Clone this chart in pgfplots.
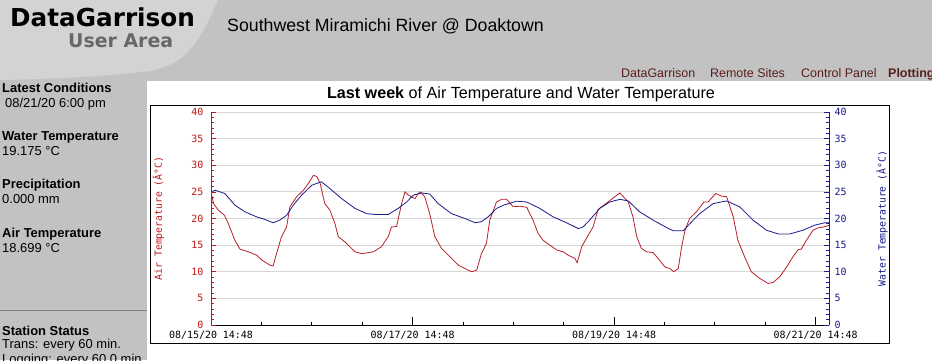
\documentclass[border=0pt]{standalone}
\usepackage{pgfplots}
\pgfplotsset{compat=1.18}
\usepackage{fontspec}
\setmainfont{Liberation Sans}
\newfontfamily\dejavu{DejaVu Sans}
\newfontfamily\mono{DejaVu Sans Mono}
\definecolor{pagegray}{HTML}{C2C2C2}
\definecolor{lightg}{HTML}{D3D3D3}
\definecolor{axred}{HTML}{C01818}
\definecolor{airred}{HTML}{B8202A}
\definecolor{navy}{HTML}{1A1A8C}
\definecolor{navlink}{HTML}{5A1E1E}
\definecolor{gridg}{HTML}{D6D6D6}
\definecolor{usergray}{HTML}{686868}
\begin{document}
\begin{tikzpicture}[x=1bp,y=1bp]
\path[use as bounding box] (0,0) rectangle (932,360);
\fill[pagegray] (0,0) rectangle (932,360);
\fill[lightg] (0,360) -- (218,360) .. controls (200,320) and (188,296) .. (150,289) .. controls (100,283) and (50,281) .. (0,280) -- cycle;
\fill[white] (147,0) rectangle (932,279);
\draw[black, line width=1bp] (150,17) rectangle (889,255);
% header
\node[anchor=base west, inner sep=0pt, font=\dejavu\bfseries\fontsize{24.8}{29}\selectfont] at (10,334) {DataGarrison};
\node[anchor=base west, inner sep=0pt, text=usergray, font=\dejavu\bfseries\fontsize{19}{22}\selectfont] at (68,313) {User Area};
\node[anchor=base west, inner sep=0pt, font=\fontsize{17.8}{21}\selectfont] at (227,329) {Southwest Miramichi River @ Doaktown};
\node[anchor=base west, inner sep=0pt, text=navlink, font=\fontsize{12.5}{15}\selectfont] at (621,283) {DataGarrison};
\node[anchor=base west, inner sep=0pt, text=navlink, font=\fontsize{12.5}{15}\selectfont] at (710,283) {Remote Sites};
\node[anchor=base west, inner sep=0pt, text=navlink, font=\fontsize{12.5}{15}\selectfont] at (801,283) {Control Panel};
\node[anchor=base west, inner sep=0pt, text=navlink, font=\bfseries\fontsize{12.5}{15}\selectfont] at (888,283) {Plotting};
% sidebar
\node[anchor=base west, inner sep=0pt, font=\bfseries\fontsize{13}{15}\selectfont] at (2,268) {Latest Conditions};
\node[anchor=base west, inner sep=0pt, font=\fontsize{13}{15}\selectfont] at (5,253) {08/21/20 6:00 pm};
\node[anchor=base west, inner sep=0pt, font=\bfseries\fontsize{13}{15}\selectfont] at (2,220) {Water Temperature};
\node[anchor=base west, inner sep=0pt, font=\fontsize{13}{15}\selectfont] at (2,205) {19.175 °C};
\node[anchor=base west, inner sep=0pt, font=\bfseries\fontsize{13}{15}\selectfont] at (2,172) {Precipitation};
\node[anchor=base west, inner sep=0pt, font=\fontsize{13}{15}\selectfont] at (2,157) {0.000 mm};
\node[anchor=base west, inner sep=0pt, font=\bfseries\fontsize{13}{15}\selectfont] at (2,123) {Air Temperature};
\node[anchor=base west, inner sep=0pt, font=\fontsize{13}{15}\selectfont] at (2,108) {18.699 °C};
\draw[gray, line width=0.8bp] (0,50) -- (147,50);
\node[anchor=base west, inner sep=0pt, font=\bfseries\fontsize{13}{15}\selectfont] at (2,25) {Station Status};
\node[anchor=base west, inner sep=0pt, font=\fontsize{13}{15}\selectfont] at (2,12) {Trans: every 60 min.};
\node[anchor=base west, inner sep=0pt, font=\fontsize{13}{15}\selectfont] at (2,-3) {Logging: every 60.0 min.};
% title
\node[anchor=base, inner sep=0pt, font=\fontsize{16.2}{19}\selectfont] at (521,262) {\textbf{Last week} of Air Temperature and Water Temperature};
% axis 1: grid and time axis
\begin{axis}[at={(211bp,35bp)}, anchor=south west, scale only axis,
  width=618bp, height=213bp, xmin=0, xmax=147.2, ymin=0, ymax=40,
  axis x line*=bottom, axis y line*=left, y axis line style={draw=none},
  x axis line style={black, line width=0.8bp},
  ytick={5,10,...,40}, yticklabels={}, ytick style={draw=none},
  ymajorgrids, grid style={gridg, line width=0.8bp},
  xtick={0,48,96,144}, minor xtick={12,24,36,60,72,84,108,120,132},
  xticklabels={08/15/20 14:48,08/17/20 14:48,08/19/20 14:48,08/21/20 14:48},
  tick align=inside, major tick length=8bp, minor tick length=3.5bp,
  xtick style={black, line width=0.8bp},
  xticklabel style={font=\mono\fontsize{10}{12}\selectfont, text=black, yshift=-3bp}]
\end{axis}
% axis 2: air temperature
\begin{axis}[at={(211bp,35bp)}, anchor=south west, scale only axis,
  width=618bp, height=213bp, xmin=0, xmax=147.2, ymin=0, ymax=40,
  /pgf/number format/assume math mode=true,
  axis x line=none, axis y line*=left,
  y axis line style={axred, line width=0.8bp},
  ytick={0,5,...,40}, minor y tick num=4,
  tick align=inside, major tick length=5bp, minor tick length=3bp,
  ytick style={axred, line width=0.7bp},
  yticklabel style={font=\mono\fontsize{10}{11}\selectfont, text=axred, xshift=-4bp},
  ylabel={Air Temperature (Â°C)},
  every axis y label/.style={at={(axis description cs:-0.085,0.5)}, rotate=90, anchor=center, font=\mono\fontsize{9.8}{11}\selectfont, text=axred}]
\addplot[airred, line width=0.8bp] coordinates {
(0,25) (0.6,22.8) (1.7,21.6) (3.2,20.6) (4.1,19.1) (5.7,15.9) (6.9,14.25) (8.9,13.75)
(10.9,13.1) (12.1,12.2) (14.0,11.25) (14.8,11.1) (15.6,13.4) (16.8,16.6) (18,18.4)
(18.8,22.2) (20.4,24.1) (22,25.3) (23.2,26.6) (24.4,28.1) (25.2,27.9) (26,26.6)
(27.1,22.8) (28.3,21.6) (29.5,19.1) (30.3,16.6) (31.9,15.6) (34.3,13.75) (35.9,13.4)
(38.7,13.75) (40.6,14.7) (42.2,16.6) (43,18.4) (44.2,18.5) (45.4,22.8) (46.2,25)
(47,24.4) (48.6,23.75) (49.4,24.7) (49.9,25) (50.9,24.1) (52.1,20.9) (53.3,16.6)
(54.9,14.4) (57.3,12.5) (58.9,11.25) (60.5,10.6) (62.1,10) (63.3,10.3) (64.4,13.4)
(65.6,15.3) (66.4,19.7) (68,23.1) (69.2,23.6) (70.4,23.6) (72,22.2) (73.6,22.3)
(75.2,22.1) (76.7,19.7) (77.9,17.2) (79.1,15.9) (80.7,15) (82.3,14.1) (83.9,13.75)
(85.1,13.1) (86.7,12.5) (87.2,11.7) (88.3,14.7) (89.4,16.25) (91,18.4) (92.2,21.7)
(94.2,22.9) (96.2,24.1) (97.4,24.8) (99.4,23.1) (100.5,20.3) (101.4,16.6) (102.5,14.4)
(103.7,13.75) (105.3,13.6) (106.5,12.5) (108.1,10.9) (109.3,10.6) (110.2,10) (111.3,10.6)
(112.1,14.7) (112.9,17.8) (114,20) (115.6,21.25) (117.4,23.1) (118.4,23.1) (120.2,24.7)
(121.6,24.2) (122.8,24.1) (124.4,20.3) (125.5,15.9) (127.1,12.8) (128.7,10) (130.7,8.75)
(132.7,7.8) (133.9,8) (135.5,9.1) (137.1,10.9) (138.6,12.8) (139.8,14.1) (140.6,14.25)
(141.8,15.9) (143.4,17.8) (144.6,18.25) (145.8,18.4) (147.2,18.7)
};
\end{axis}
% axis 3: water temperature
\begin{axis}[at={(211bp,35bp)}, anchor=south west, scale only axis,
  width=618bp, height=213bp, xmin=0, xmax=147.2, ymin=0, ymax=40,
  /pgf/number format/assume math mode=true,
  axis x line=none, axis y line*=right,
  y axis line style={navy, line width=0.8bp},
  ytick={0,5,...,40}, minor y tick num=4,
  tick align=inside, major tick length=5bp, minor tick length=3bp,
  ytick style={navy, line width=0.7bp},
  yticklabel style={font=\mono\fontsize{10}{11}\selectfont, text=navy, xshift=2bp},
  ylabel={Water Temperature (Â°C)},
  every axis y label/.style={at={(axis description cs:1.086,0.5)}, rotate=90, anchor=center, font=\mono\fontsize{9.8}{11}\selectfont, text=navy}]
\addplot[navy, line width=0.8bp] coordinates {
(0,25) (1,25.3) (3.3,24.7) (5.7,22.5) (8.1,21.25) (10.9,20.3) (12.9,19.8) (14.8,19.2)
(16.4,19.7) (18,20.6) (19.6,22.5) (21.6,24.4) (24,26.25) (26.3,26.9) (27.9,25.9)
(31.1,23.75) (34.3,21.9) (37.1,20.9) (39.4,20.75) (42.2,20.75) (44.6,21.9) (46.6,23.1)
(48.2,24.4) (50.2,24.8) (52.1,24.6) (54.1,22.8) (57.3,20.9) (60.5,20) (62.9,19.2)
(64.4,19.4) (66,20.3) (68,21.9) (70,22.6) (72.8,23.25) (75.2,23.1) (78.3,21.9)
(81.5,20.3) (84.7,19.2) (87.5,18.1) (88.6,18.4) (90.2,19.7) (92.6,21.9) (95,23.1)
(97.4,23.6) (99.4,23.3) (102.1,21.25) (105.3,19.7) (108.5,18.3) (110.1,17.7) (112.5,17.7)
(114.5,19.4) (116.4,20.9) (119.6,22.8) (122.8,23.3) (125.9,22.2) (129.1,19.7) (132.3,17.8)
(135.1,17.1) (137.9,17.1) (141,17.8) (143.8,18.75) (146.2,19.2) (147.2,19.175)
};
\end{axis}
\end{tikzpicture}
\end{document}
